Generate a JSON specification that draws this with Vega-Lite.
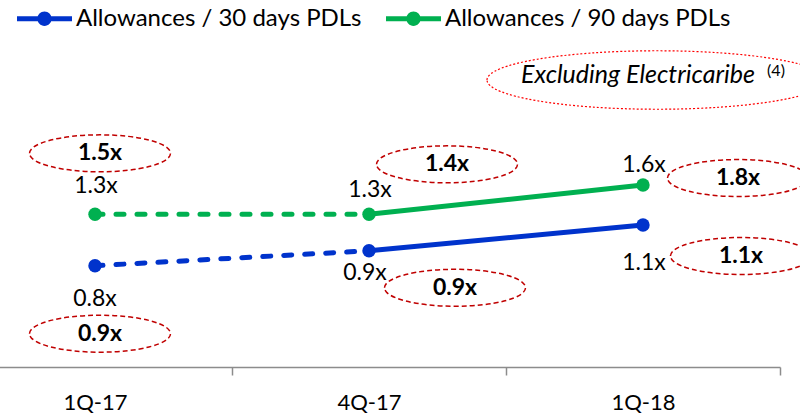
{
  "$schema": "https://vega.github.io/schema/vega-lite/v6.json",
  "width": 800,
  "height": 367,
  "autosize": {"type": "none"},
  "padding": {"left": 0, "top": 0, "right": 0, "bottom": 53},
  "config": {"view": {"stroke": null}, "font": "Lato", "text": {"font": "Lato", "color": "#000000"}},
  "datasets": {
    "ratios": [
      {"quarter": "1Q-17", "series": "Allowances / 30 days PDLs", "value": 0.8, "label": "0.8x", "excl": "0.9x"},
      {"quarter": "4Q-17", "series": "Allowances / 30 days PDLs", "value": 0.91, "label": "0.9x", "excl": "0.9x"},
      {"quarter": "1Q-18", "series": "Allowances / 30 days PDLs", "value": 1.1, "label": "1.1x", "excl": "1.1x"},
      {"quarter": "1Q-17", "series": "Allowances / 90 days PDLs", "value": 1.3, "label": "1.3x", "excl": "1.5x"},
      {"quarter": "4Q-17", "series": "Allowances / 90 days PDLs", "value": 1.3, "label": "1.3x", "excl": "1.4x"},
      {"quarter": "1Q-18", "series": "Allowances / 90 days PDLs", "value": 1.6, "label": "1.6x", "excl": "1.8x"}
    ],
    "note": [{"note": "Excluding Electricaribe", "ref": "(4)"}]
  },
  "data": {"name": "ratios"},
  "encoding": {
    "x": {
      "field": "quarter", "type": "nominal", "sort": ["1Q-17", "4Q-17", "1Q-18"],
      "scale": {"type": "band", "range": [-42, 780], "paddingInner": 0, "paddingOuter": 0},
      "axis": {"title": null, "domainColor": "#8c8c8c", "domainWidth": 1.5, "tickColor": "#8c8c8c", "tickWidth": 1.5, "tickSize": 8, "tickBand": "extent", "labelFont": "Lato", "labelFontSize": 22, "labelColor": "#000000", "labelPadding": 17, "labelAngle": 0, "grid": false}
    }
  },
  "layer": [
    {
      "transform": [{"filter": "datum.series === 'Allowances / 30 days PDLs'"}],
      "encoding": {"y": {"field": "value", "type": "quantitative", "scale": {"domain": [0.0535, 2.758], "nice": false, "zero": false}, "axis": null}},
      "layer": [
        {"transform": [{"filter": "datum.quarter !== '1Q-18'"}], "mark": {"type": "line", "color": "#0033CC", "strokeWidth": 5, "strokeDash": [8, 13], "strokeCap": "round"}},
        {"transform": [{"filter": "datum.quarter !== '1Q-17'"}], "mark": {"type": "line", "color": "#0033CC", "strokeWidth": 5}},
        {
          "mark": {"type": "point", "filled": true, "opacity": 1, "size": 180, "shape": "circle"},
          "encoding": {"color": {"field": "series", "type": "nominal",
            "scale": {"domain": ["Allowances / 30 days PDLs", "Allowances / 90 days PDLs"], "range": ["#0033CC", "#00B050"]},
            "legend": {"title": null, "orient": "none", "legendX": 17, "legendY": -9, "direction": "horizontal", "labelFont": "Lato", "labelFontSize": 24, "labelColor": "#000000", "labelLimit": 500, "symbolType": "M-1,-0.09L1,-0.09L1,0.09L-1,0.09Z M0.26,0A0.26,0.26 0 1,1 -0.26,0A0.26,0.26 0 1,1 0.26,0Z", "symbolSize": 3025, "symbolStrokeWidth": 0, "labelOffset": 4, "columnPadding": 24}}}
        },
        {"transform": [{"filter": "datum.quarter === '1Q-17'"}], "layer": [
          {"mark": {"type": "text", "fontSize": 23, "baseline": "middle", "dy": 33}, "encoding": {"text": {"field": "label"}}},
          {"mark": {"type": "point", "shape": "M-1,0A1,0.262 0 1,1 1,0A1,0.262 0 1,1 -1,0Z", "size": 19881, "filled": false, "color": "#C00000", "opacity": 1, "strokeWidth": 1.5, "strokeDash": [5, 3], "xOffset": 5, "yOffset": 68}},
          {"mark": {"type": "text", "fontSize": 23, "fontWeight": "bold", "baseline": "middle", "dx": 5, "dy": 68}, "encoding": {"text": {"field": "excl"}}}
        ]},
        {"transform": [{"filter": "datum.quarter === '4Q-17'"}], "layer": [
          {"mark": {"type": "text", "fontSize": 23, "baseline": "middle", "dx": -4, "dy": 22}, "encoding": {"text": {"field": "label"}}},
          {"mark": {"type": "point", "shape": "M-1,0A1,0.262 0 1,1 1,0A1,0.262 0 1,1 -1,0Z", "size": 19881, "filled": false, "color": "#C00000", "opacity": 1, "strokeWidth": 1.5, "strokeDash": [5, 3], "xOffset": 86, "yOffset": 37}},
          {"mark": {"type": "text", "fontSize": 23, "fontWeight": "bold", "baseline": "middle", "dx": 86, "dy": 37}, "encoding": {"text": {"field": "excl"}}}
        ]},
        {"transform": [{"filter": "datum.quarter === '1Q-18'"}], "layer": [
          {"mark": {"type": "text", "fontSize": 23, "baseline": "middle", "dx": 1, "dy": 38}, "encoding": {"text": {"field": "label"}}},
          {"mark": {"type": "point", "shape": "M-1,0A1,0.262 0 1,1 1,0A1,0.262 0 1,1 -1,0Z", "size": 19881, "filled": false, "color": "#C00000", "opacity": 1, "strokeWidth": 1.5, "strokeDash": [5, 3], "xOffset": 98, "yOffset": 31}},
          {"mark": {"type": "text", "fontSize": 23, "fontWeight": "bold", "baseline": "middle", "dx": 98, "dy": 31}, "encoding": {"text": {"field": "excl"}}}
        ]}
      ]
    },
    {
      "transform": [{"filter": "datum.series === 'Allowances / 90 days PDLs'"}],
      "encoding": {"y": {"field": "value", "type": "quantitative", "scale": {"domain": [-0.263, 3.494], "nice": false, "zero": false}, "axis": null}},
      "layer": [
        {"transform": [{"filter": "datum.quarter !== '1Q-18'"}], "mark": {"type": "line", "color": "#00B050", "strokeWidth": 5, "strokeDash": [8, 13], "strokeCap": "round"}},
        {"transform": [{"filter": "datum.quarter !== '1Q-17'"}], "mark": {"type": "line", "color": "#00B050", "strokeWidth": 5}},
        {
          "mark": {"type": "point", "filled": true, "opacity": 1, "size": 180, "shape": "circle"},
          "encoding": {"color": {"field": "series", "type": "nominal"}}
        },
        {"transform": [{"filter": "datum.quarter === '1Q-17'"}], "layer": [
          {"mark": {"type": "text", "fontSize": 23, "baseline": "middle", "dx": 1, "dy": -28}, "encoding": {"text": {"field": "label"}}},
          {"mark": {"type": "point", "shape": "M-1,0A1,0.262 0 1,1 1,0A1,0.262 0 1,1 -1,0Z", "size": 19881, "filled": false, "color": "#C00000", "opacity": 1, "strokeWidth": 1.5, "strokeDash": [5, 3], "xOffset": 5, "yOffset": -61}},
          {"mark": {"type": "text", "fontSize": 23, "fontWeight": "bold", "baseline": "middle", "dx": 5, "dy": -61}, "encoding": {"text": {"field": "excl"}}}
        ]},
        {"transform": [{"filter": "datum.quarter === '4Q-17'"}], "layer": [
          {"mark": {"type": "text", "fontSize": 23, "baseline": "middle", "dx": 1, "dy": -24}, "encoding": {"text": {"field": "label"}}},
          {"mark": {"type": "point", "shape": "M-1,0A1,0.262 0 1,1 1,0A1,0.262 0 1,1 -1,0Z", "size": 19881, "filled": false, "color": "#C00000", "opacity": 1, "strokeWidth": 1.5, "strokeDash": [5, 3], "xOffset": 78, "yOffset": -50}},
          {"mark": {"type": "text", "fontSize": 23, "fontWeight": "bold", "baseline": "middle", "dx": 78, "dy": -50}, "encoding": {"text": {"field": "excl"}}}
        ]},
        {"transform": [{"filter": "datum.quarter === '1Q-18'"}], "layer": [
          {"mark": {"type": "text", "fontSize": 23, "baseline": "middle", "dx": 1, "dy": -20}, "encoding": {"text": {"field": "label"}}},
          {"mark": {"type": "point", "shape": "M-1,0A1,0.262 0 1,1 1,0A1,0.262 0 1,1 -1,0Z", "size": 19881, "filled": false, "color": "#C00000", "opacity": 1, "strokeWidth": 1.5, "strokeDash": [5, 3], "xOffset": 95, "yOffset": -7}},
          {"mark": {"type": "text", "fontSize": 23, "fontWeight": "bold", "baseline": "middle", "dx": 95, "dy": -7}, "encoding": {"text": {"field": "excl"}}}
        ]}
      ]
    },
    {
      "data": {"name": "note"},
      "encoding": {
        "x": {"datum": "1Q-18"},
        "y": {"datum": 2.675, "type": "quantitative", "scale": {"domain": [-0.263, 3.494], "nice": false, "zero": false}, "axis": null}
      },
      "layer": [
        {"mark": {"type": "point", "shape": "M-1,0A1,0.172 0 1,1 1,0A1,0.172 0 1,1 -1,0Z", "size": 115600, "filled": false, "color": "#FF0000", "opacity": 1, "strokeWidth": 1.2, "strokeDash": [2, 2], "xOffset": 14}},
        {"mark": {"type": "text", "fontSize": 25, "fontStyle": "italic", "baseline": "middle", "dx": -5, "dy": -5}, "encoding": {"text": {"field": "note"}}},
        {"mark": {"type": "text", "fontSize": 16, "baseline": "middle", "dx": 133, "dy": -9}, "encoding": {"text": {"field": "ref"}}}
      ]
    }
  ],
  "resolve": {"scale": {"y": "independent"}}
}
